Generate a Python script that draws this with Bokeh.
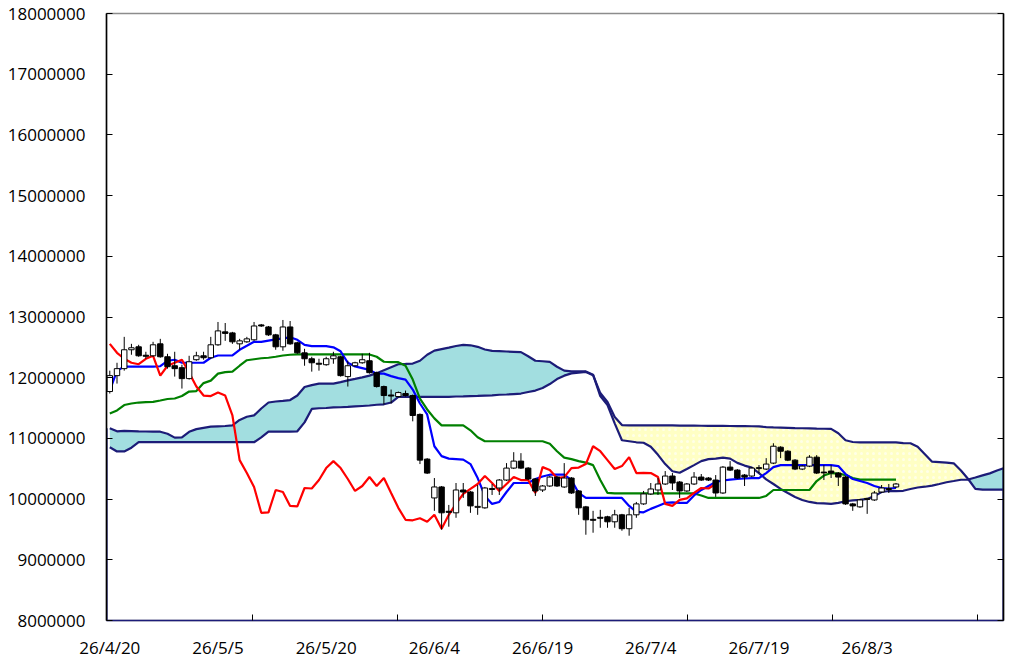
from bokeh.plotting import figure
from bokeh.models import Range1d, FixedTicker, LinearAxis, ColumnDataSource
from bokeh.embed import file_html
from bokeh.resources import INLINE

# ---------------- data (values in yen) ----------------
date_labels = ["26/4/20", "26/5/5", "26/5/20", "26/6/4", "26/6/19", "26/7/4", "26/7/19", "26/8/3"]
label_idx = [0, 15, 30, 45, 60, 75, 90, 105]
tick_idx = [19.8, 39.9, 60.0, 80.1, 100.2, 120.3]
y_ticks = [8000000, 9000000, 10000000, 11000000, 12000000, 13000000,
           14000000, 15000000, 16000000, 17000000, 18000000]
y_tick_labels = ["8000000", "9000000", "10000000", "11000000", "12000000", "13000000",
                 "14000000", "15000000", "16000000", "17000000", "18000000"]

open_ = [11772000, 12034000, 12149000, 12460000, 12509000, 12370000, 12361000, 12558000, 12345000, 12197000,
         12165000, 11985000, 12296000, 12361000, 12329000, 12542000, 12755000, 12738000, 12558000, 12591000,
         12624000, 12869000, 12836000, 12706000, 12509000, 12836000, 12575000, 12410000, 12312000, 12238000,
         12214000, 12312000, 12345000, 12018000, 12197000, 12246000, 12279000, 12083000, 11854000, 11715000,
         11690000, 11739000, 11706000, 11395000, 10659000, 10019000, 10200000, 9799000, 9774000, 10150000,
         10117000, 9864000, 9856000, 10158000, 10183000, 10314000, 10511000, 10626000, 10511000, 10331000,
         10150000, 10216000, 10363000, 10200000, 10347000, 10134000, 9872000, 9667000, 9700000, 9708000,
         9626000, 9741000, 9512000, 9741000, 9921000, 10085000, 10150000, 10249000, 10380000, 10281000,
         10134000, 10249000, 10363000, 10347000, 10314000, 10101000, 10527000, 10478000, 10396000, 10380000,
         10503000, 10495000, 10593000, 10855000, 10789000, 10642000, 10495000, 10544000, 10691000, 10445000,
         10462000, 10429000, 10363000, 9921000, 9872000, 9994000, 9986000, 10117000, 10158000, 10200000]

high = [12116000, 12246000, 12673000, 12558000, 12542000, 12427000, 12591000, 12640000, 12394000, 12427000,
        12214000, 12361000, 12427000, 12427000, 12673000, 12918000, 12901000, 12755000, 12640000, 12673000,
        12918000, 12885000, 12852000, 12722000, 12951000, 12934000, 12591000, 12476000, 12345000, 12312000,
        12345000, 12427000, 12361000, 12279000, 12263000, 12394000, 12410000, 12100000, 11870000, 11805000,
        11772000, 11788000, 11723000, 11411000, 10675000, 10347000, 10216000, 9904000, 10265000, 10265000,
        10134000, 10232000, 10200000, 10249000, 10331000, 10593000, 10773000, 10757000, 10527000, 10347000,
        10232000, 10380000, 10380000, 10593000, 10363000, 10150000, 9888000, 9807000, 9823000, 9725000,
        9823000, 9757000, 9856000, 9953000, 10134000, 10265000, 10347000, 10462000, 10429000, 10298000,
        10265000, 10445000, 10413000, 10363000, 10396000, 10544000, 10626000, 10495000, 10413000, 10527000,
        10560000, 10675000, 10920000, 10871000, 10806000, 10659000, 10560000, 10724000, 10724000, 10560000,
        10560000, 10445000, 10380000, 9937000, 10003000, 10019000, 10134000, 10232000, 10249000, 10265000]

low = [11739000, 11903000, 12116000, 12378000, 12345000, 12312000, 12345000, 12329000, 12149000, 12018000,
       11821000, 11969000, 12279000, 12296000, 12312000, 12525000, 12607000, 12558000, 12460000, 12575000,
       12607000, 12836000, 12689000, 12460000, 12443000, 12542000, 12394000, 12197000, 12100000, 12116000,
       12197000, 12230000, 12018000, 11854000, 12181000, 12230000, 12067000, 11838000, 11559000, 11575000,
       11674000, 11690000, 11281000, 10577000, 10413000, 9807000, 9495000, 9545000, 9692000, 10019000,
       9774000, 9741000, 9840000, 10068000, 10068000, 10298000, 10495000, 10495000, 10314000, 10052000,
       10117000, 10200000, 10200000, 10183000, 10085000, 9741000, 9413000, 9446000, 9528000, 9528000,
       9528000, 9479000, 9397000, 9692000, 9905000, 10068000, 10068000, 10232000, 10150000, 10019000,
       10117000, 10232000, 10298000, 10298000, 10036000, 10085000, 10462000, 10331000, 10216000, 10363000,
       10429000, 10478000, 10577000, 10675000, 10626000, 10478000, 10478000, 10527000, 10413000, 10314000,
       10347000, 10216000, 9905000, 9807000, 9856000, 9757000, 9970000, 10101000, 10101000, 10183000]

close = [12034000, 12149000, 12460000, 12493000, 12361000, 12353000, 12542000, 12345000, 12181000, 12149000,
         11985000, 12263000, 12361000, 12329000, 12542000, 12771000, 12730000, 12591000, 12607000, 12640000,
         12852000, 12852000, 12706000, 12509000, 12836000, 12558000, 12410000, 12312000, 12246000, 12222000,
         12312000, 12361000, 12034000, 12197000, 12246000, 12296000, 12083000, 11854000, 11706000, 11698000,
         11755000, 11706000, 11378000, 10642000, 10429000, 10200000, 9774000, 9782000, 10150000, 10117000,
         9888000, 9880000, 10183000, 10175000, 10314000, 10511000, 10626000, 10511000, 10331000, 10134000,
         10216000, 10363000, 10216000, 10347000, 10101000, 9856000, 9659000, 9651000, 9684000, 9626000,
         9741000, 9512000, 9741000, 9921000, 10085000, 10167000, 10249000, 10380000, 10265000, 10134000,
         10249000, 10363000, 10314000, 10314000, 10101000, 10527000, 10478000, 10347000, 10363000, 10511000,
         10519000, 10577000, 10871000, 10789000, 10642000, 10495000, 10544000, 10691000, 10429000, 10432000,
         10429000, 10363000, 9921000, 9888000, 9986000, 10011000, 10101000, 10183000, 10175000, 10249000]

tenkan = [11788000, 12116000, 12181000, 12181000, 12181000, 12181000, 12181000, 12189000, 12279000, 12296000,
          12246000, 12246000, 12246000, 12246000, 12329000, 12366000, 12366000, 12366000, 12460000, 12525000,
          12591000, 12591000, 12612000, 12632000, 12648000, 12665000, 12624000, 12542000, 12520000, 12520000,
          12520000, 12501000, 12435000, 12246000, 12186000, 12157000, 12128000, 12067000, 12067000, 12026000,
          11993000, 11969000, 11805000, 11575000, 11395000, 10871000, 10708000, 10667000, 10659000, 10650000,
          10577000, 10347000, 10052000, 9921000, 9953000, 10117000, 10265000, 10265000, 10265000, 10331000,
          10372000, 10402000, 10402000, 10402000, 10314000, 10101000, 10019000, 10019000, 10019000, 10019000,
          10019000, 10019000, 9888000, 9790000, 9782000, 9839000, 9888000, 9937000, 9945000, 9937000,
          9937000, 10060000, 10150000, 10216000, 10281000, 10306000, 10322000, 10331000, 10339000, 10347000,
          10347000, 10429000, 10527000, 10560000, 10560000, 10560000, 10560000, 10560000, 10560000, 10560000,
          10560000, 10544000, 10413000, 10331000, 10298000, 10265000, 10216000, 10183000, 10175000, 10183000]

kijun = [11411000, 11460000, 11550000, 11575000, 11591000, 11596000, 11601000, 11624000, 11649000, 11657000,
         11698000, 11772000, 11780000, 11911000, 11952000, 12067000, 12091000, 12100000, 12197000, 12288000,
         12304000, 12320000, 12329000, 12345000, 12366000, 12378000, 12383000, 12383000, 12383000, 12383000,
         12383000, 12383000, 12383000, 12383000, 12383000, 12383000, 12383000, 12345000, 12263000, 12258000,
         12255000, 12197000, 11969000, 11657000, 11477000, 11330000, 11215000, 11215000, 11215000, 11215000,
         11133000, 11018000, 10953000, 10953000, 10953000, 10953000, 10953000, 10953000, 10953000, 10953000,
         10953000, 10912000, 10789000, 10683000, 10659000, 10626000, 10601000, 10560000, 10314000, 10101000,
         10093000, 10093000, 10093000, 10093000, 10093000, 10093000, 10093000, 10093000, 10093000, 10093000,
         10093000, 10093000, 10060000, 10019000, 10019000, 10019000, 10019000, 10019000, 10019000, 10019000,
         10019000, 10052000, 10150000, 10150000, 10150000, 10150000, 10150000, 10150000, 10298000, 10388000,
         10429000, 10421000, 10396000, 10347000, 10322000, 10322000, 10322000, 10322000, 10322000, 10322000]

span_a = [11166000, 11117000, 11125000, 11121000, 11117000, 11114000, 11112000, 11110000, 11076000, 11013000,
          11018000, 11109000, 11153000, 11174000, 11194000, 11199000, 11204000, 11215000, 11305000, 11356000,
          11379000, 11493000, 11591000, 11608000, 11619000, 11632000, 11706000, 11846000, 11878000, 11903000,
          11903000, 11903000, 11928000, 11957000, 11980000, 12005000, 12034000, 12075000, 12124000, 12173000,
          12222000, 12227000, 12233000, 12279000, 12378000, 12446000, 12471000, 12496000, 12522000, 12542000,
          12534000, 12509000, 12465000, 12443000, 12438000, 12432000, 12427000, 12422000, 12353000, 12279000,
          12271000, 12260000, 12181000, 12116000, 12104000, 12104000, 12104000, 12050000, 11698000, 11550000,
          11248000, 10969000, 10953000, 10936000, 10928000, 10863000, 10729000, 10577000, 10459000, 10434000,
          10495000, 10560000, 10626000, 10659000, 10667000, 10683000, 10667000, 10597000, 10552000, 10519000,
          10429000, 10326000, 10249000, 10167000, 10101000, 10036000, 9986000, 9953000, 9934000, 9929000,
          9921000, 9937000, 9965000, 9978000, 9986000, 10003000, 10049000, 10117000, 10134000, 10131000,
          10137000, 10167000, 10191000, 10204000, 10221000, 10249000, 10278000, 10298000, 10319000, 10322000,
          10355000, 10391000, 10424000, 10470000, 10511000]

span_b = [10855000, 10785000, 10785000, 10847000, 10937000, 10937000, 10937000, 10937000, 10937000, 10937000,
          10937000, 10937000, 10937000, 10937000, 10937000, 10937000, 10937000, 10937000, 10937000, 10937000,
          10937000, 11018000, 11112000, 11112000, 11112000, 11112000, 11117000, 11264000, 11485000, 11497000,
          11501000, 11510000, 11513000, 11518000, 11526000, 11534000, 11542000, 11554000, 11562000, 11591000,
          11684000, 11684000, 11684000, 11684000, 11684000, 11684000, 11684000, 11684000, 11690000, 11693000,
          11698000, 11701000, 11706000, 11710000, 11719000, 11723000, 11731000, 11739000, 11764000, 11788000,
          11829000, 11895000, 11977000, 12034000, 12072000, 12083000, 12095000, 12042000, 11747000, 11600000,
          11354000, 11220000, 11215000, 11215000, 11215000, 11215000, 11215000, 11215000, 11215000, 11212000,
          11210000, 11209000, 11208000, 11207000, 11206000, 11205000, 11204000, 11203000, 11202000, 11200000,
          11197000, 11185000, 11181000, 11178000, 11174000, 11170000, 11167000, 11164000, 11161000, 11159000,
          11156000, 11084000, 10969000, 10941000, 10933000, 10933000, 10933000, 10933000, 10933000, 10933000,
          10923000, 10920000, 10863000, 10740000, 10617000, 10609000, 10601000, 10589000, 10470000, 10331000,
          10167000, 10156000, 10156000, 10156000, 10156000]

chikou = [12558000, 12410000, 12312000, 12246000, 12222000, 12312000, 12361000, 12034000, 12197000, 12246000,
          12296000, 12083000, 11854000, 11706000, 11698000, 11755000, 11706000, 11378000, 10642000, 10429000,
          10200000, 9774000, 9782000, 10150000, 10117000, 9888000, 9880000, 10183000, 10175000, 10314000,
          10511000, 10626000, 10511000, 10331000, 10134000, 10216000, 10363000, 10216000, 10347000, 10101000,
          9856000, 9659000, 9651000, 9684000, 9626000, 9741000, 9512000, 9741000, 9921000, 10085000,
          10167000, 10249000, 10380000, 10265000, 10134000, 10249000, 10363000, 10314000, 10314000, 10101000,
          10527000, 10478000, 10347000, 10363000, 10511000, 10519000, 10577000, 10871000, 10789000, 10642000,
          10495000, 10544000, 10691000, 10429000, 10432000, 10429000, 10363000, 9921000, 9888000, 9986000,
          10011000, 10101000, 10183000, 10175000, 10249000]

# ---------------- styling ----------------
NAVY = "#1c1c78"
CYAN = "#A2DEE0"
YELLOW = "#FFFFC4"
FONT = "Open Sans"

X_LO, X_HI = -0.457, 123.9
Y_LO, Y_HI = y_ticks[0], y_ticks[-1]

p = figure(width=1016, height=661,
           x_range=Range1d(X_LO, X_HI), y_range=Range1d(Y_LO, Y_HI),
           output_backend="svg", toolbar_location=None,
           min_border_left=106, min_border_right=13, min_border_top=13, min_border_bottom=38)

p.xgrid.visible = False
p.ygrid.visible = False
p.outline_line_color = "#8c8c8c"
p.outline_line_width = 1.5
p.background_fill_color = "white"
p.border_fill_color = "white"

# y axis (left)
yax = p.yaxis[0]
yax.ticker = FixedTicker(ticks=y_ticks, minor_ticks=[])
yax.major_label_overrides = {v: s for v, s in zip(y_ticks, y_tick_labels)}
yax.major_tick_in = 6
yax.major_tick_out = 0
yax.minor_tick_line_color = None
yax.axis_line_color = "#000000"
yax.axis_line_width = 1.5
yax.major_tick_line_color = "#000000"
yax.major_label_standoff = 21
yax.major_label_text_font = FONT
yax.major_label_text_font_size = "17px"
yax.major_label_text_color = "#000000"

# x axis (bottom)
xax = p.xaxis[0]
xax.ticker = FixedTicker(ticks=label_idx, minor_ticks=tick_idx)
xax.major_label_overrides = {v: s for v, s in zip(label_idx, date_labels)}
xax.major_tick_line_color = None
xax.major_tick_in = 0
xax.major_tick_out = 0
xax.minor_tick_in = 6
xax.minor_tick_out = 0
xax.minor_tick_line_color = "#000000"
xax.axis_line_color = NAVY
xax.axis_line_width = 1.5
xax.major_label_standoff = 15
xax.major_label_text_font = FONT
xax.major_label_text_font_size = "17px"
xax.major_label_text_color = "#000000"

# right axis: tick marks only
rax = LinearAxis(ticker=FixedTicker(ticks=y_ticks, minor_ticks=[]))
rax.major_tick_in = 6
rax.major_tick_out = 0
rax.minor_tick_line_color = None
rax.axis_line_color = "#000000"
rax.axis_line_width = 1.5
rax.major_label_overrides = {v: "" for v in y_ticks}
rax.major_label_standoff = 0
p.add_layout(rax, "right")

# ---------------- cloud fill ----------------
xs, a_pts, b_pts = [], [], []
n = len(span_a)
for i in range(n):
    xs.append(i)
    a_pts.append(span_a[i])
    b_pts.append(span_b[i])
    if i < n - 1:
        d0 = span_a[i] - span_b[i]
        d1 = span_a[i + 1] - span_b[i + 1]
        if d0 * d1 < 0:
            t = d0 / (d0 - d1)
            yc = span_a[i] + t * (span_a[i + 1] - span_a[i])
            xs.append(i + t)
            a_pts.append(yc)
            b_pts.append(yc)
top = [max(a, b) for a, b in zip(a_pts, b_pts)]

p.varea(x=xs, y1=b_pts, y2=top, fill_color=CYAN)
p.varea(x=xs, y1=a_pts, y2=top, fill_color=YELLOW,
        hatch_pattern="dot", hatch_color="white", hatch_alpha=0.6, hatch_scale=6, hatch_weight=1)

span_x = list(range(n))
p.line(span_x, span_a, line_color=NAVY, line_width=2.2)
p.line(span_x, span_b, line_color=NAVY, line_width=2.2)
# area outlines running down to the baseline at both edges
p.segment(x0=[X_LO, X_HI], y0=[span_a[0], span_a[-1]], x1=[X_LO, X_HI], y1=[Y_LO, Y_LO],
          line_color=NAVY, line_width=2.2)

# ---------------- lines ----------------
idx = list(range(len(close)))
p.line(idx, kijun, line_color="#008000", line_width=2.2)
p.line(idx, tenkan, line_color="#0000FF", line_width=2.2)
p.line(list(range(len(chikou))), chikou, line_color="#FF0000", line_width=2.2)

# ---------------- candles ----------------
src = ColumnDataSource(dict(
    x=idx,
    high=high,
    low=low,
    top=[max(o, c) for o, c in zip(open_, close)],
    bottom=[min(o, c) for o, c in zip(open_, close)],
    fill=["white" if c >= o else "black" for o, c in zip(open_, close)],
))
p.segment(x0="x", y0="low", x1="x", y1="high", source=src, line_color="black", line_width=1)
p.vbar(x="x", width=0.75, top="top", bottom="bottom", fill_color="fill",
       line_color="black", line_width=1, source=src)

open("out.html", "w").write(file_html(p, INLINE))
